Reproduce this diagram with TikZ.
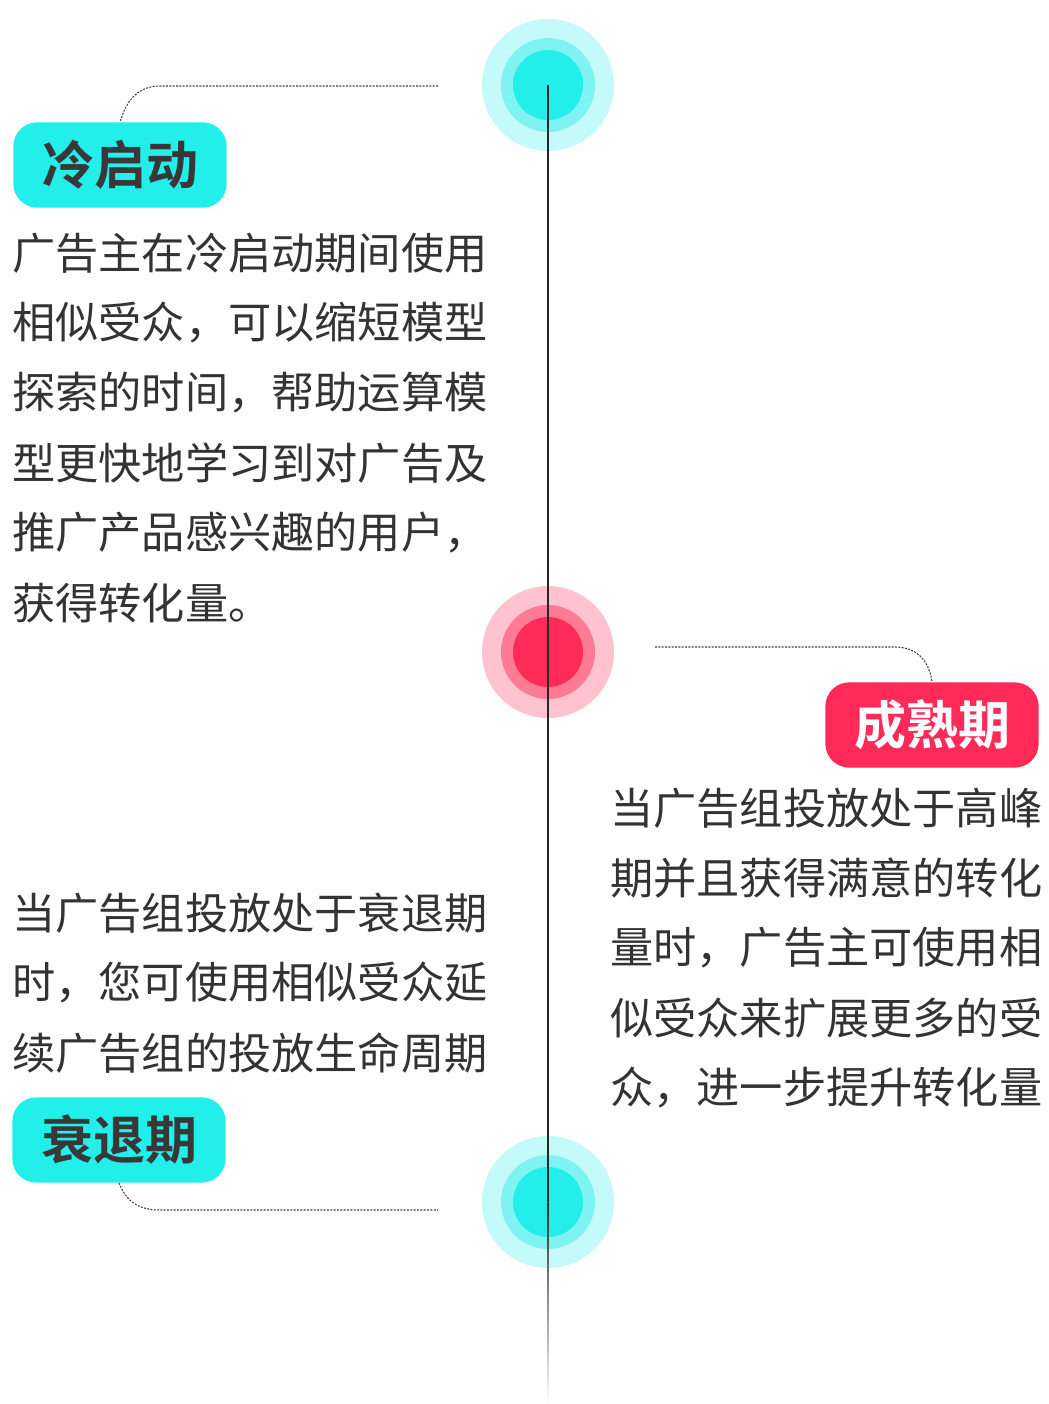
\documentclass[tikz,border=0pt]{standalone}
\usepackage{fontspec}
\setmainfont{Noto Sans CJK SC}
\newfontfamily\cjkb{Noto Sans CJK SC Bold}
\begin{document}
\begin{tikzpicture}[x=0.75pt,y=-0.75pt,
  body/.style={anchor=west,inner sep=0,text=black!80,font=\fontsize{32.4}{32.4}\selectfont},
  tagc/.style={fill=cyan1,rounded corners=18pt,minimum width=160pt,minimum height=64pt,font=\cjkb\fontsize{39}{39}\selectfont,text=black!78},
  tagr/.style={fill=red3,rounded corners=18pt,minimum width=160pt,minimum height=64pt,font=\cjkb\fontsize{39}{39}\selectfont,text=white},
  dots/.style={dash pattern=on 1.5pt off 1pt,black!75,line width=0.8pt}]
\definecolor{cyan1}{HTML}{22EEEA}\definecolor{cyan2}{HTML}{7FF3F1}\definecolor{cyan3}{HTML}{C4FAF9}
\definecolor{red1}{HTML}{FFC3CF}\definecolor{red2}{HTML}{FF7A93}\definecolor{red3}{HTML}{FF2A57}
\useasboundingbox (0,0) rectangle (1049,1404);
\foreach \n/\y/\a/\b/\c in {c1/85/cyan3/cyan2/cyan1,c2/652/red1/red2/red3,c3/1202/cyan3/cyan2/cyan1}{
  \fill[\a] (548,\y) circle (66);
  \fill[\b] (548,\y) circle (47);
  \fill[\c] (548,\y) circle (35);
  \coordinate (\n) at (548,\y);}
\draw[black!85,line width=1pt] (c1) -- (c3);
\shade[top color=black!85,bottom color=white] (547.3,1202) rectangle (548.7,1404);
\node[tagc] (t1) at (120,165) {冷启动};
\node[tagr] (t2) at (932,725) {成熟期};
\node[tagc] (t3) at (119,1140) {衰退期};
\draw[dots] (438,86) -- (160,86) .. controls (135,86) and (125,105) .. (t1.north);
\draw[dots] (655,647) -- (895,647) .. controls (920,647) and (930,665) .. (t2.north);
\draw[dots] (t3.south) .. controls (125,1198) and (135,1210) .. (160,1210) -- (438,1210);
\foreach \t [count=\i] in {广告主在冷启动期间使用,相似受众，可以缩短模型,探索的时间，帮助运算模,型更快地学习到对广告及,推广产品感兴趣的用户，,获得转化量。}
  \node[body] (l\i) at (12,183+70*\i) {\t};
\foreach \t [count=\i] in {当广告组投放处于高峰,期并且获得满意的转化,量时，广告主可使用相,似受众来扩展更多的受,众，进一步提升转化量}
  \node[body] (r\i) at (610,738+70*\i) {\t};
\foreach \t [count=\i] in {当广告组投放处于衰退期,时，您可使用相似受众延,续广告组的投放生命周期}
  \node[body] (b\i) at (12,843+70*\i) {\t};
\end{tikzpicture}
\end{document}
